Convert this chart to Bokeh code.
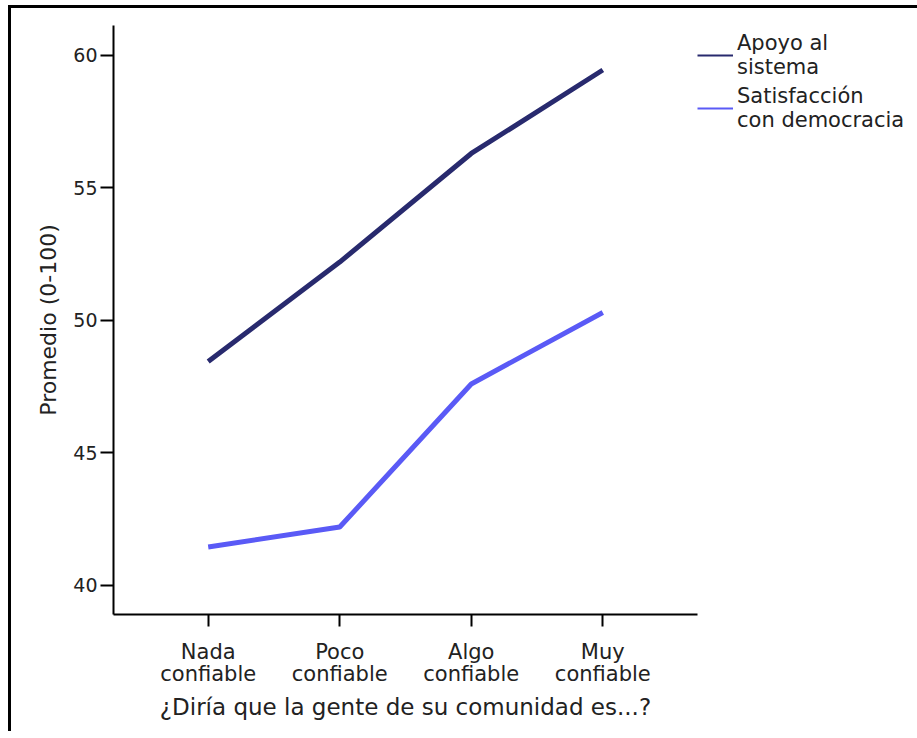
from bokeh.plotting import figure
from bokeh.models import ColumnDataSource, FixedTicker, Legend, LegendItem, Range1d
from bokeh.embed import file_html
from bokeh.resources import INLINE

categories = ["Nada\nconfiable", "Poco\nconfiable", "Algo\nconfiable", "Muy\nconfiable"]
positions = [0, 1, 2, 3]
apoyo = [48.45, 52.2, 56.3, 59.45]
satisfaccion = [41.45, 42.2, 47.6, 50.3]
series_names = ["Apoyo al\nsistema", "Satisfacción\ncon democracia"]
colors = ["#282a6e", "#5a5af6"]
y_ticks = [40, 45, 50, 55, 60]

FONT = "DejaVu Sans"

p = figure(output_backend="svg", toolbar_location=None,
           frame_width=584, frame_height=589,
           min_border_left=102, min_border_top=17, min_border_right=214, min_border_bottom=117,
           x_range=Range1d(-0.72, 3.72), y_range=Range1d(38.9, 61.13))
p.styles = {"border-left": "3px solid black", "border-top": "3px solid black",
            "margin-left": "8px", "margin-top": "5px"}
p.outline_line_color = None
p.xgrid.visible = False
p.ygrid.visible = False

src = ColumnDataSource(dict(x=positions, apoyo=apoyo, sat=satisfaccion))
r1 = p.line("x", "apoyo", source=src, line_color=colors[0], line_width=5)
r2 = p.line("x", "sat", source=src, line_color=colors[1], line_width=5)

# thin samples for the legend (no visible data)
nan = float("nan")
empty = ColumnDataSource(dict(x=[nan], y=[nan]))
l1 = p.line("x", "y", source=empty, line_color=colors[0], line_width=2)
l2 = p.line("x", "y", source=empty, line_color=colors[1], line_width=2)

legend = Legend(items=[LegendItem(label=series_names[0], renderers=[l1]),
                       LegendItem(label=series_names[1], renderers=[l2])],
                location=(0, 482), orientation="vertical")
legend.border_line_color = None
legend.background_fill_alpha = 0
legend.label_text_font = FONT
legend.label_text_font_size = "21px"
legend.label_text_color = "#222222"
legend.label_text_line_height = 0.87
legend.glyph_width = 36
legend.glyph_height = 20
legend.label_standoff = 4
legend.spacing = 5
legend.padding = 0
legend.margin = 0
p.add_layout(legend, "right")

# axes
for ax in (p.xaxis, p.yaxis):
    ax.axis_line_color = "black"
    ax.axis_line_width = 2
    ax.major_tick_line_color = "black"
    ax.major_tick_line_width = 2
    ax.major_tick_in = 0
    ax.minor_tick_line_color = None
    ax.major_label_text_color = "#222222"
    ax.axis_label_text_color = "#222222"
    ax.axis_label_text_font_style = "normal"

p.xaxis.ticker = FixedTicker(ticks=positions)
p.xaxis.major_label_overrides = {pos: lab for pos, lab in zip(positions, categories)}
p.xaxis.major_tick_out = 12
p.xaxis.major_label_standoff = 13
p.xaxis.major_label_text_font = FONT
p.xaxis.major_label_text_font_size = "21px"
p.xaxis.major_label_text_line_height = 0.92
p.xaxis.axis_label = "¿Diría que la gente de su comunidad es...?"
p.xaxis.axis_label_text_font = FONT
p.xaxis.axis_label_text_font_size = "23px"
p.xaxis.axis_label_standoff = 5

p.yaxis.ticker = FixedTicker(ticks=y_ticks)
p.yaxis.major_tick_out = 13
p.yaxis.major_label_standoff = 3
p.yaxis.major_label_text_font = FONT
p.yaxis.major_label_text_font_size = "19px"
p.yaxis.axis_label = "Promedio (0-100)"
p.yaxis.axis_label_text_font = FONT
p.yaxis.axis_label_text_font_size = "22px"
p.yaxis.axis_label_standoff = 9

open("out.html", "w").write(file_html(p, INLINE))
